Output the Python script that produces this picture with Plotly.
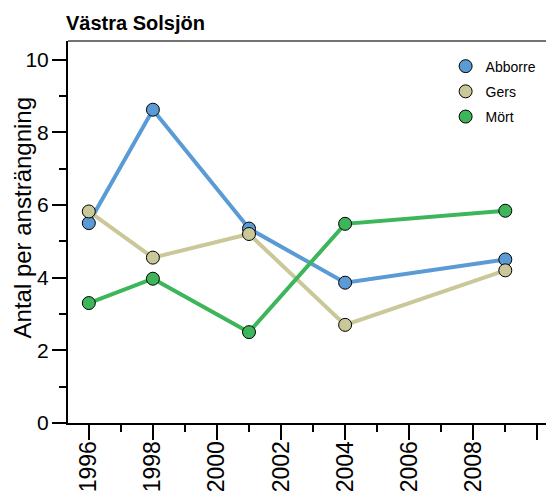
import plotly.graph_objects as go

years = [1996, 1998, 2001, 2004, 2009]
abborre = [5.50, 8.62, 5.35, 3.86, 4.50]
gers = [5.82, 4.55, 5.20, 2.70, 4.20]
mort = [3.30, 3.97, 2.50, 5.48, 5.84]

series = ['Abborre', 'Gers', 'Mört']
colors = ['rgb(91,155,213)', 'rgb(202,200,153)', 'rgb(61,182,90)']
y_title = 'Antal per ansträngning'

FONT = 'Liberation Sans, Arial, sans-serif'


def build_figure():
    fig = go.Figure()
    for name, values, color in zip(series, [abborre, gers, mort], colors):
        fig.add_trace(go.Scatter(x=years, y=values, mode='lines+markers', name=name,
                                 showlegend=False, cliponaxis=False,
                                 line=dict(color=color, width=4),
                                 marker=dict(size=13, color=color, line=dict(color='black', width=1))))
    # legend shows markers only
    for name, color in zip(series, colors):
        fig.add_trace(go.Scatter(x=[None], y=[None], mode='markers', name=name, legendgroup=name,
                                 marker=dict(size=13, color=color, line=dict(color='black', width=1))))

    fig.update_layout(width=546, height=491, plot_bgcolor='white', paper_bgcolor='white',
                      margin=dict(l=68, r=0, t=41, b=68),
                      font=dict(family=FONT, color='black'),
                      title=dict(text='<b>Västra Solsjön</b>', x=66 / 546, xanchor='left',
                                 y=1 - 23 / 491, yanchor='middle',
                                 font=dict(size=20, color='black', family=FONT)),
                      legend=dict(x=0.79, y=0.975, xanchor='left', yanchor='top',
                                  font=dict(size=14, family=FONT), tracegroupgap=4,
                                  bgcolor='rgba(0,0,0,0)'),
                      annotations=[dict(text=y_title, xref='paper', yref='paper', x=-0.095, y=0.537,
                                        xanchor='center', yanchor='middle', textangle=-90,
                                        showarrow=False, font=dict(size=24, family=FONT))],
                      shapes=[dict(type='line', xref='paper', yref='paper', x0=0, x1=1, y0=1, y1=1,
                                   line=dict(color='#444', width=1.5))])
    fig.update_xaxes(range=[1995.35, 2010.27], showgrid=False, zeroline=False,
                     showline=True, linewidth=2, linecolor='black',
                     ticks='outside', tick0=1996, dtick=2, ticklen=15, tickwidth=2, tickcolor='black',
                     minor=dict(ticks='outside', dtick=1, tick0=1996, ticklen=7, tickwidth=2,
                                tickcolor='black', showgrid=False),
                     tickangle=-90, tickfont=dict(size=23, family=FONT), ticklabelstandoff=-8,
                     automargin=False)
    fig.update_yaxes(range=[0, 10.51], showgrid=False, zeroline=False,
                     showline=True, linewidth=2, linecolor='black',
                     ticks='outside', tick0=0, dtick=2, ticklen=14, tickwidth=2, tickcolor='black',
                     minor=dict(ticks='outside', dtick=1, ticklen=7, tickwidth=2,
                                tickcolor='black', showgrid=False),
                     tickfont=dict(size=21, family=FONT), ticklabelstandoff=-1, automargin=False)
    return fig


if __name__ == '__main__':
    fig = build_figure()
    # page body margin would shift the figure by 8px
    fig.write_html("out.html", config={'displayModeBar': False},
                   post_script="document.body.style.margin='0';")
